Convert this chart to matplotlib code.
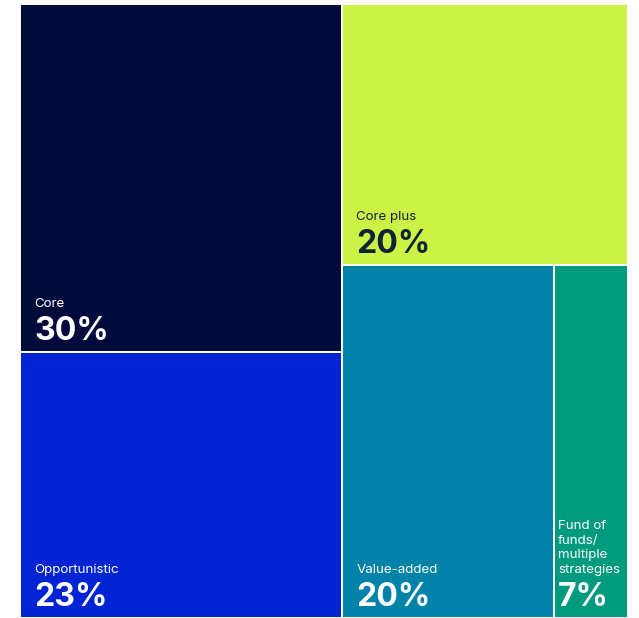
import matplotlib.pyplot as plt
from matplotlib.patches import Rectangle

plt.rcParams['font.family'] = ['Inter', 'DejaVu Sans']

# allocation by strategy (%)
left_names = ['Core', 'Opportunistic']
left_values = [30, 23]
top_right_name = 'Core plus'
top_right_value = 20
bottom_names = ['Value-added', 'Fund of\nfunds/\nmultiple\nstrategies']
bottom_values = [20, 7]

colors = {
    'Core': '#000a3b',
    'Opportunistic': '#0023d3',
    'Core plus': '#ccf245',
    'Value-added': '#0082a9',
    'Fund of\nfunds/\nmultiple\nstrategies': '#009a7f',
}
text_dark = '#0c2434'

W, H = 639, 618
x0, x1, y0, y1 = 20, 628, 4, 618
gap = 2

fig = plt.figure(figsize=(W / 100, H / 100), dpi=100)
ax = fig.add_axes([0, 0, 1, 1])
ax.set_xlim(0, W)
ax.set_ylim(H, 0)
ax.axis('off')

total = sum(left_values) + top_right_value + sum(bottom_values)
tiles = []  # (name, value, x, y, w, h)

# left column: Core over Opportunistic
lw = (x1 - x0) * sum(left_values) / total
y = y0
for name, v in zip(left_names, left_values):
    h = (y1 - y0) * v / sum(left_values)
    tiles.append((name, v, x0, y, lw, h))
    y += h

# right column: Core plus on top, the rest split side by side below
rx = x0 + lw
rw = x1 - rx
right_total = top_right_value + sum(bottom_values)
th = (y1 - y0) * top_right_value / right_total
tiles.append((top_right_name, top_right_value, rx, y0, rw, th))
x = rx
for name, v in zip(bottom_names, bottom_values):
    w = rw * v / sum(bottom_values)
    tiles.append((name, v, x, y0 + th, w, y1 - y0 - th))
    x += w

for name, v, x, y, w, h in tiles:
    ax.add_patch(Rectangle((x + gap / 2, y + gap / 2), w - gap, h - gap,
                           facecolor=colors[name], edgecolor='none'))
    tc = text_dark if name == 'Core plus' else 'white'
    pad = 14 if w > 120 else 4
    base = y + h - 12
    ax.text(x + pad, base, f'{v}%', color=tc, fontsize=23,
            fontweight='bold', va='baseline', ha='left')
    # multi-line labels sit on their last line's baseline
    ax.text(x + pad, base - 33, name, color=tc,
            fontsize=9.6, va='baseline', ha='left', linespacing=1.3)

fig.savefig('out.png', dpi=100, facecolor='white')
